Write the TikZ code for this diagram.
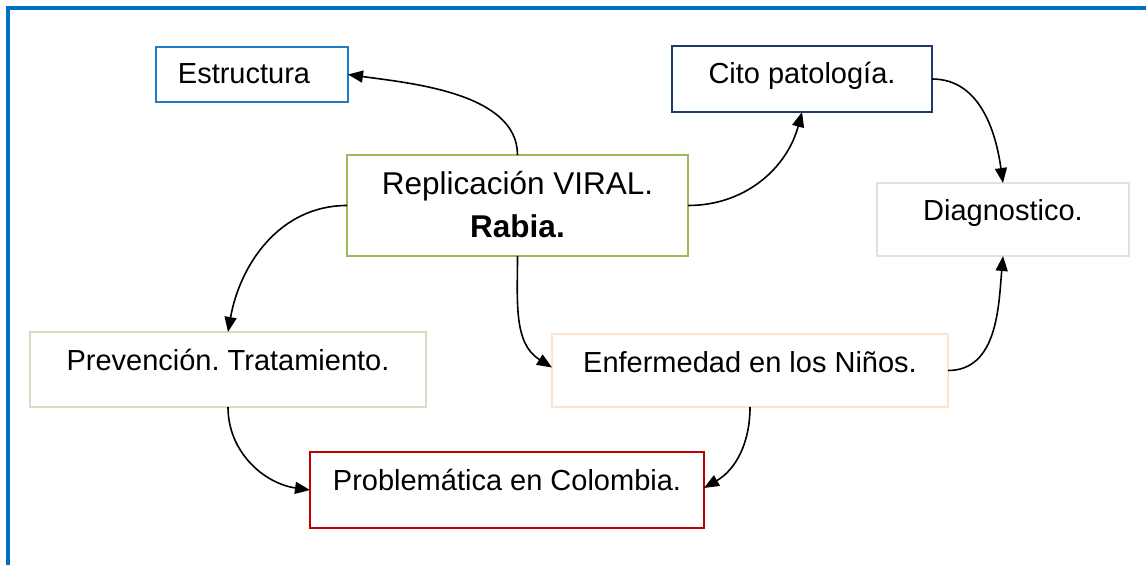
\documentclass[tikz,border=0pt]{standalone}
\usepackage{fontspec}
\setmainfont{Liberation Sans}
\frenchspacing
\usetikzlibrary{arrows.meta}
\definecolor{frameblue}{HTML}{0070C0}
\definecolor{estrblue}{HTML}{1F7BC8}
\definecolor{citonavy}{HTML}{1F3A6E}
\definecolor{diaglav}{HTML}{E3DEEC}
\definecolor{repgreen}{HTML}{9BBB59}
\definecolor{prevbeige}{HTML}{DDD9C3}
\definecolor{enfpeach}{HTML}{FDE4D0}
\definecolor{probred}{HTML}{C00000}
\tikzset{
  tbox/.style={draw, line width=1.5pt, inner sep=0pt, outer sep=0pt, anchor=north west,
    font=\fontsize{29}{35}\selectfont},
  conn/.style={line width=1.6pt, -{Triangle[length=15pt,width=12pt]}},
}
\begin{document}
\begin{tikzpicture}[x=1pt,y=1pt]
\useasboundingbox (0,0) rectangle (1146,565);
% outer frame (top and left sides only)
\draw[frameblue, line width=4pt] (8,0) -- (8,557) -- (1146,557);
% boxes (y = 565 - pixel y)
\node[tbox, draw=estrblue, minimum width=192pt, text height=36.3pt, text depth=18.7pt] (estr) at (156,518) {\hspace*{-16pt}Estructura};
\node[tbox, draw=citonavy, minimum width=260pt, text height=38pt, text depth=28pt] (cito) at (672,519) {Cito patología.};
\node[tbox, draw=diaglav, minimum width=252pt, text height=38pt, text depth=35pt] (diag) at (877,382) {Diagnostico.};
\node[tbox, draw=repgreen, minimum width=341pt, text height=40pt, text depth=61pt,
  font=\fontsize{31.5}{43}\selectfont] (rep) at (347,410)
  {\begin{tabular}[t]{@{}c@{}}Replicación VIRAL.\\ \textbf{Rabia.}\end{tabular}};
\node[tbox, draw=prevbeige, minimum width=396pt, text height=39pt, text depth=36pt] (prev) at (30,233) {Prevención. Tratamiento.};
\node[tbox, draw=enfpeach, minimum width=396pt, text height=39pt, text depth=34pt] (enf) at (552,231) {Enfermedad en los Niños.};
\node[tbox, draw=probred, minimum width=394pt, text height=39pt, text depth=37pt] (prob) at (310,113) {Problemática en Colombia.};
% connectors
\draw[conn] (rep.north) to[out=90, in=-8, looseness=0.85] (estr.east);
\draw[conn] (rep.east) to[out=0, in=255] (cito.south);
\draw[conn] (cito.east) to[out=0, in=98] (diag.north);
\draw[conn] (enf.east) to[out=0, in=265] (diag.south);
\draw[conn] (rep.west) to[out=180, in=80] (prev.north);
\draw[conn] (rep.south) to[out=-90, in=148] ([yshift=3pt]enf.west);
\draw[conn] (prev.south) to[out=-90, in=172] (prob.west);
\draw[conn] (enf.south) to[out=-90, in=30] ([yshift=2pt]prob.east);
\end{tikzpicture}
\end{document}
